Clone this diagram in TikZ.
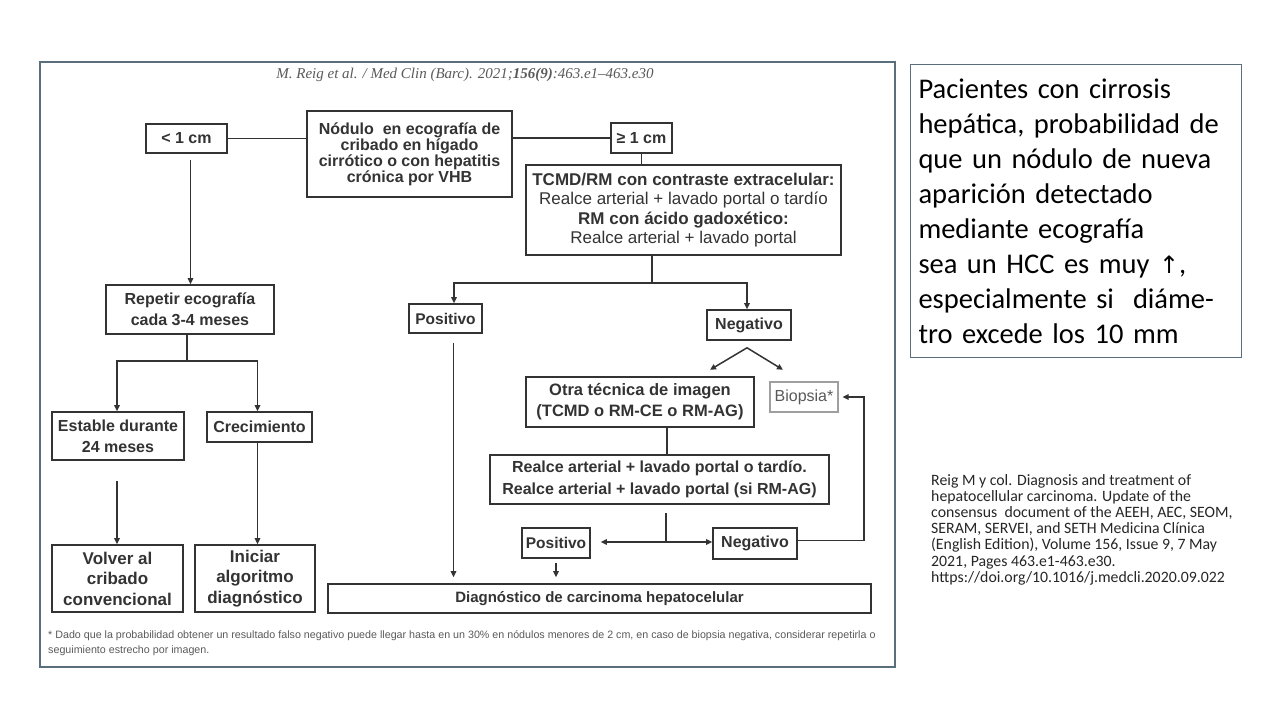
\documentclass[tikz,border=0pt]{standalone}
\usepackage{fontspec}
\setmainfont{Liberation Sans}
\newfontfamily\calibfont{Carlito}
\newfontfamily\serfont{Liberation Serif}
\newfontfamily\symfont{DejaVu Sans}
\usetikzlibrary{arrows.meta}
\usetikzlibrary{positioning}
\definecolor{ink}{HTML}{333333}
\definecolor{framec}{HTML}{5B6E7B}
\definecolor{notec}{HTML}{5A5A5A}

\begin{document}
\begin{tikzpicture}[x=1pt,y=-1pt,
  box/.style={draw=ink,line width=1.6pt,fill=white,inner sep=0pt,align=center,text=ink,
    font=\bfseries\fontsize{16}{19}\selectfont},
  line/.style={draw=ink,line width=1.5pt},
  arr/.style={line,-{Triangle[length=6pt,width=5.5pt]}}]
\useasboundingbox[fill=white] (0,0) rectangle (1280,720);
\draw[framec,line width=1.4pt] (40,62) rectangle (895,667);

\node[text=notec,font=\serfont\itshape\fontsize{15}{17}\selectfont] (hdr) at (465,75)
  {M. Reig et al. / Med Clin (Barc). 2021;\textbf{156(9)}:463.e1–463.e30};

% top row
\node[box,minimum width=81,minimum height=29] (lt) at (186.5,138.5) {< 1 cm};
\node[box,minimum width=205,minimum height=86,font=\bfseries\fontsize{16}{14.5}\selectfont] (nod) at (409.5,154)
  {Nódulo \ en ecografía de\\cribado en hígado\\cirrótico o con hepatitis\\crónica por VHB};
\node[box,minimum width=61,minimum height=30] (ge) at (641.5,138) {≥ 1 cm};
\node[box,minimum width=315,minimum height=90,font=\fontsize{17}{19.5}\selectfont] (tc) at (683.5,210)
  {\textbf{TCMD/RM con contraste extracelular:}\\Realce arterial + lavado portal o tardío\\
   \textbf{RM con ácido gadoxético:}\\Realce arterial + lavado portal};

% left branch
\node[box,minimum width=168,minimum height=49,font=\bfseries\fontsize{16}{21}\selectfont] (rep) at (190,309.5)
  {Repetir ecografía\\cada 3-4 meses};
\node[box,minimum width=132,minimum height=48,font=\bfseries\fontsize{16}{21}\selectfont] (est) at (118,436)
  {Estable durante\\24 meses};
\node[box,minimum width=105,minimum height=30] (cre) at (259.5,427) {Crecimiento};
\node[box,minimum width=131,minimum height=67,font=\bfseries\fontsize{17}{20.5}\selectfont] (vol) at (117.5,578.5)
  {Volver al\\cribado\\convencional};
\node[box,minimum width=120,minimum height=67,font=\bfseries\fontsize{17}{20.5}\selectfont] (ini) at (255,578.5)
  {Iniciar\\algoritmo\\diagnóstico};

% right branch
\node[box,minimum width=73,minimum height=29,font=\bfseries\fontsize{15.5}{18}\selectfont] (pos) at (445.5,318.5) {Positivo};
\node[box,minimum width=84,minimum height=30] (neg) at (749,325) {Negativo};
\node[box,minimum width=228,minimum height=50,font=\bfseries\fontsize{16.5}{21}\selectfont] (otra) at (640,402)
  {Otra técnica de imagen\\(TCMD o RM-CE o RM-AG)};
\node[box,minimum width=68,minimum height=30,draw=gray!75,line width=1.1pt,text=gray!70!black,
  font=\fontsize{16}{19}\selectfont] (bio) at (804,397) {Biopsia*};
\node[box,minimum width=339,minimum height=49,font=\bfseries\fontsize{16}{22}\selectfont] (rea) at (659.5,479.5)
  {Realce arterial + lavado portal o tardío.\\Realce arterial + lavado portal (si RM-AG)};
\node[box,minimum width=68,minimum height=30,font=\bfseries\fontsize{15.5}{18}\selectfont] (pos2) at (556,543) {Positivo};
\node[box,minimum width=84,minimum height=31] (neg2) at (755,543.5) {Negativo};
\node[box,minimum width=543,minimum height=29,font=\bfseries\fontsize{15}{18}\selectfont] (dia) at (599.5,598.5)
  {Diagnóstico de carcinoma hepatocelular};

\node[anchor=north west,align=left,text=notec,inner sep=0pt,font=\fontsize{10.7}{15}\selectfont] (foot) at (48,630)
  {* Dado que la probabilidad obtener un resultado falso negativo puede llegar hasta en un 30\% en nódulos menores de 2 cm, en caso de biopsia negativa, considerar repetirla o\\
   seguimiento estrecho por imagen.};

% connectors
\draw[line] (lt.east) -- (lt.east -| nod.west);
\draw[line] (ge.west -| nod.east) -- (ge.west);
\draw[line] (ge.south) -- (ge.south |- tc.north);
\draw[arr,shorten <=6pt] ([xshift=4pt]lt.south) -- ([xshift=4pt]lt.south |- rep.north);
\draw[line] ([xshift=-3pt]rep.south) -- ++(0,26) coordinate (rj);
\draw[arr] (rj) -| ([xshift=-1pt]est.north);
\draw[arr] (rj) -| ([xshift=-2pt]cre.north);
\draw[arr,shorten <=20pt] ([xshift=-1pt]est.south) -- ([xshift=-1pt]est.south |- vol.north);
\draw[arr] ([xshift=-2pt]cre.south) -- ([xshift=-2pt]cre.south |- ini.north);

\coordinate (tj) at (652,283);
\draw[line] (tj |- tc.south) -- (tj);
\draw[arr] (tj) -| ([xshift=8.5pt]pos.north);
\draw[arr] (tj) -| ([xshift=-2pt]neg.north);
\draw[arr,shorten <=9pt,shorten >=6pt] ([xshift=8pt]pos.south) -- ([xshift=8pt]pos.south |- dia.north);
\draw[arr] ([xshift=-2pt,yshift=-7pt]neg.south) -- ++(-37,22) coordinate (na);
\draw[arr] ([xshift=-2pt,yshift=-7pt]neg.south) -- ++(36,22) coordinate (nb);
\draw[line] ([xshift=27pt]otra.south) -- ([xshift=27pt]otra.south |- rea.north);

\coordinate (rj2) at (666,542);
\coordinate (rr) at (864,0);
\draw[line,shorten <=8pt] (rj2 |- rea.south) -- (rj2);
\draw[arr,shorten >=10pt] (rj2) -- (rj2 -| pos2.east);
\draw[arr] (rj2) -- (rj2 -| neg2.west);
\draw[arr,shorten >=4pt] ([yshift=3pt]neg2.east) -| (rr |- bio.east) -- (bio.east);
\draw[arr,shorten <=4pt,shorten >=6pt] (pos2.south) -- (pos2.south |- dia.north);

% side texts
\node[draw=framec,line width=1pt,anchor=north west,minimum width=331,minimum height=293,
  inner xsep=8pt,text width=315,align=left,font=\calibfont\fontsize{28.5}{35}\selectfont] (info) at (910,64)
  {Pacientes con cirrosis\\hepática, probabilidad de\\que un nódulo de nueva\\aparición detectado\\mediante ecografía\\
   sea un HCC es muy {\symfont\fontsize{24}{35}\selectfont ↑},\\especialmente si \ diáme-\\tro excede los 10 mm};
\node[anchor=north west,align=left,inner sep=0pt,text=black!85,font=\calibfont\fontsize{15.8}{16.2}\selectfont] (src) at (931,474)
  {Reig M y col. Diagnosis and treatment of\\hepatocellular carcinoma. Update of the\\
   consensus \ document of the AEEH, AEC, SEOM,\\SERAM, SERVEI, and SETH Medicina Clínica\\
   (English Edition), Volume 156, Issue 9, 7 May\\2021, Pages 463.e1-463.e30.\\
   https://doi.org/10.1016/j.medcli.2020.09.022};
\end{tikzpicture}
\end{document}
